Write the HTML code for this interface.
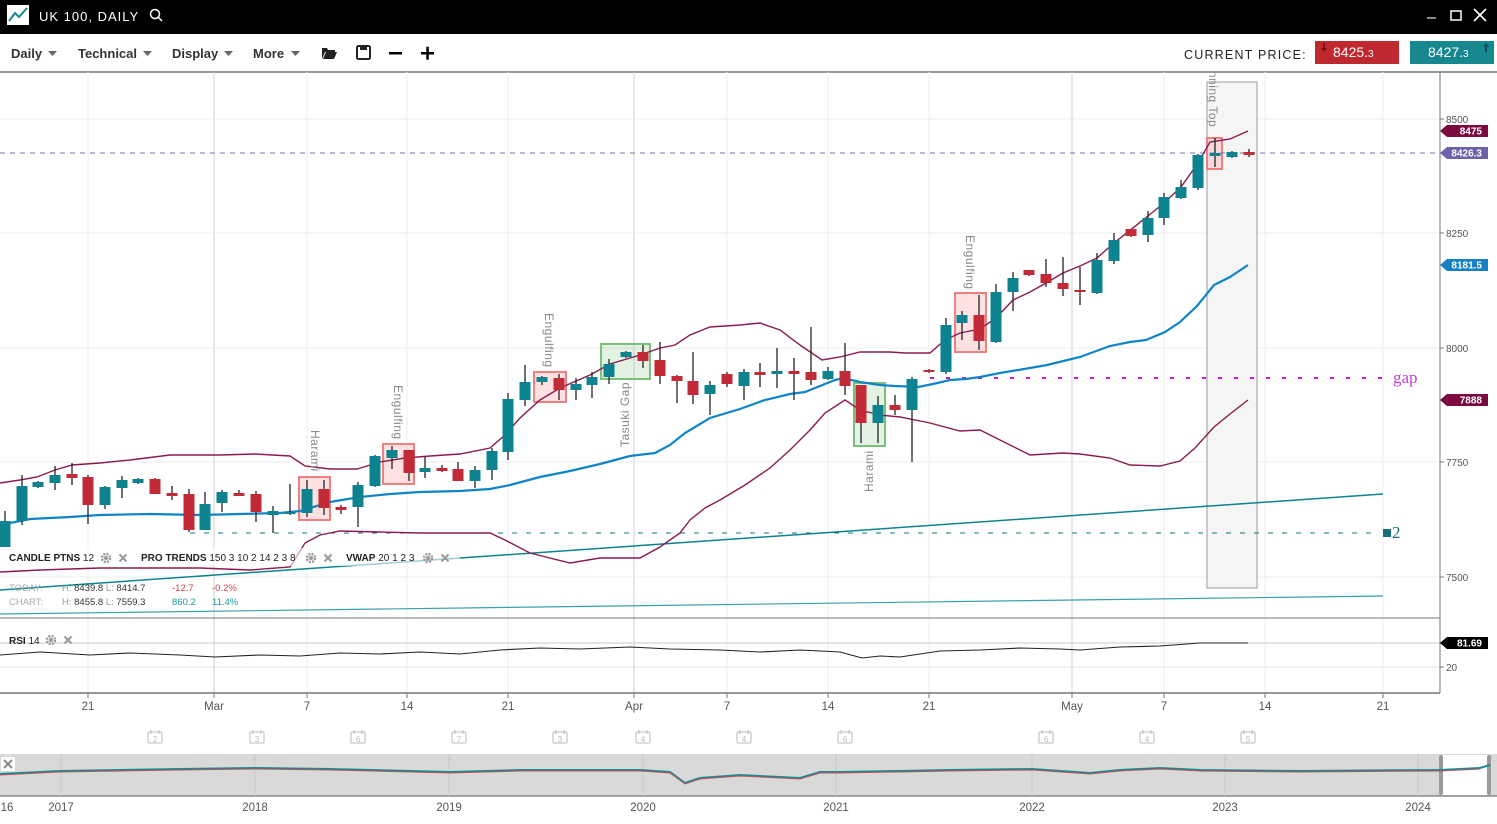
<!DOCTYPE html>
<html><head><meta charset="utf-8"><style>
body{margin:0;width:1497px;height:824px;overflow:hidden;background:#fff;font-family:"Liberation Sans",sans-serif;}
svg{position:absolute;left:0;top:0}
</style></head><body>
<svg id="s" width="1497" height="824" xmlns="http://www.w3.org/2000/svg" font-family="Liberation Sans, sans-serif">
<defs><clipPath id="cp"><rect x="0" y="73" width="1440" height="545"/></clipPath></defs>
<rect x="0" y="0" width="1497" height="34" fill="#000"/>
<rect x="7" y="5" width="22" height="20" fill="#fff"/>
<polyline points="9,21 15,13 19,17 27,8" fill="none" stroke="#17888f" stroke-width="2"/>
<text x="39" y="21" fill="#fff" font-size="13" letter-spacing="1">UK 100, DAILY</text>
<circle cx="155" cy="14" r="4.5" fill="none" stroke="#fff" stroke-width="1.5"/><line x1="158" y1="17" x2="162" y2="21" stroke="#fff" stroke-width="1.5"/>
<text x="1427" y="22" fill="#fff" font-size="16">–</text>
<rect x="1451" y="11" width="10" height="9" fill="none" stroke="#fff" stroke-width="1.5"/>
<path d="M1474 9 L1486 21 M1486 9 L1474 21" stroke="#fff" stroke-width="1.6"/>
<g font-size="13" font-weight="bold" fill="#333">
<text x="11" y="58">Daily</text><path d="M48 51 l9 0 l-4.5 5z" fill="#666"/>
<text x="78" y="58">Technical</text><path d="M143 51 l9 0 l-4.5 5z" fill="#666"/>
<text x="172" y="58">Display</text><path d="M224 51 l9 0 l-4.5 5z" fill="#666"/>
<text x="253" y="58">More</text><path d="M291 51 l9 0 l-4.5 5z" fill="#666"/>
</g>
<path d="M322 59 l0-11 l5 0 l1 2 l7 0 l0 2 l-10 0 l-3 7z M323 59 l3-7 l11 0 l-3 7z" fill="#222"/>
<rect x="357" y="46" width="13" height="13" rx="1.5" fill="none" stroke="#222" stroke-width="2"/><rect x="360" y="46" width="7" height="4" fill="#222"/>
<rect x="389" y="52" width="13" height="2.5" fill="#000"/>
<rect x="421" y="52" width="13" height="2.5" fill="#000"/><rect x="426.3" y="46.7" width="2.5" height="13" fill="#000"/>
<text x="1184" y="59" font-size="12.5" fill="#222" letter-spacing="1.2">CURRENT PRICE:</text>
<rect x="1315" y="41" width="84" height="23" fill="#c0282f"/>
<text x="1333" y="57" fill="#fff" font-size="14">8425.<tspan font-size="10">3</tspan></text>
<path d="M1323 43 v5 h-2 l3 4 l3-4 h-2 v-5z" fill="#7a1014"/>
<rect x="1410" y="41" width="84" height="23" fill="#17888f"/>
<text x="1428" y="57" fill="#fff" font-size="14">8427.<tspan font-size="10">3</tspan></text>
<path d="M1485 52 v-5 h-2 l3-4 l3 4 h-2 v5z" fill="#0b5157"/>
<line x1="0" y1="72" x2="1497" y2="72" stroke="#777" stroke-width="1.5"/>
<g id="grid" stroke="#ececec" stroke-width="1"></g>
<line x1="1440" y1="72" x2="1440" y2="693" stroke="#777"/>
<line x1="0" y1="618" x2="1440" y2="618" stroke="#777"/>
<line x1="0" y1="693" x2="1440" y2="693" stroke="#777" stroke-width="1.5"/>
<rect x="1207" y="82" width="50" height="506" fill="#f5f5f5" stroke="#999" stroke-width="1"/>
<g id="main"></g>
</svg>
<script>
const s=document.getElementById('main'),g=document.getElementById('grid');let h='';let gh='';
const vx=[88,214,307,407,508,634,727,828,929,1072,1164,1265,1383];
vx.forEach((x,i)=>{const d=(x==214||x==634||x==1072);gh+=`<line x1="${x}" y1="72" x2="${x}" y2="693" stroke="${d?'#d0d0d0':'#ececec'}"/>`;});
[119,233,348,462,577].forEach(y=>gh+=`<line x1="0" y1="${y}" x2="1440" y2="${y}"/>`);
gh+=`<line x1="0" y1="643" x2="1440" y2="643" stroke="#c8c8c8"/><line x1="0" y1="667" x2="1440" y2="667" stroke="#e0e0e0"/>`;
g.innerHTML=gh;
const T='#0d838f',R='#c22a37';
const boxes=[[299,477,31,43,'r'],[383,444,31,40,'r'],[534,372,32,30,'r'],[601,344,49,35,'g'],[854,383,31,63,'g'],[955,293,31,59,'r'],[1207,138,15,31,'r']];
boxes.forEach(b=>h+=`<rect x="${b[0]}" y="${b[1]}" width="${b[2]}" height="${b[3]}" fill="${b[4]=='r'?'rgba(255,120,120,0.22)':'rgba(120,190,120,0.2)'}" stroke="${b[4]=='r'?'#f08080':'#7cc07c'}" stroke-width="2"/>`);
function pl(p,c,w){h+=`<polyline points="${p}" fill="none" stroke="${c}" stroke-width="${w}"/>`;}
pl('0,590 1383,494','#0d838f',1.5);
pl('0,614 1383,596','#3aa0a8',1.2);
h+=`<line x1="190" y1="533" x2="1380" y2="533" stroke="#17707a" stroke-dasharray="5,9"/>`;
h+=`<rect x="1383" y="529" width="8" height="8" fill="#17707a"/><text x="1392" y="538" font-family="Liberation Serif,serif" font-size="17" fill="#17707a">2</text>`;
h+=`<line x1="930" y1="378" x2="1385" y2="378" stroke="#c020c8" stroke-width="2" stroke-dasharray="4,12"/>`;
h+=`<text x="1393" y="383" font-family="Liberation Serif,serif" font-size="17" fill="#c040d0">gap</text>`;
h+=`<line x1="0" y1="153" x2="1440" y2="153" stroke="#7a70aa" stroke-dasharray="5,5"/>`;
pl('0,483 20,480 37,477 55,470 72,465 100,463 130,460 170,455 220,455 255,454 290,456 305,466 330,469 357,469 380,462 405,458 430,456 460,454 490,448 505,435 520,418 540,400 560,388 590,375 610,364 640,355 660,348 675,345 690,335 710,327 740,325 760,323 780,330 800,345 822,360 840,357 860,352 890,352 905,353 930,353 945,340 960,333 980,329 996,318 1013,300 1030,292 1046,283 1063,273 1080,266 1097,258 1114,243 1148,216 1164,203 1181,187 1198,163 1210,142 1230,139 1248,131','#8b1a4f',1.4);
pl('0,572 40,570 100,568 200,568 250,570 290,567 305,543 320,535 340,531 380,532 420,533 460,533 490,533 505,540 530,553 570,563 600,558 640,558 660,547 680,533 690,520 705,508 720,500 745,485 770,468 790,450 810,430 825,413 845,400 860,410 880,415 900,417 930,423 960,431 980,430 1000,440 1030,455 1063,453 1080,454 1110,458 1130,465 1160,466 1180,461 1195,448 1214,427 1230,414 1248,400','#8b1a4f',1.4);
pl('0,525 30,519 70,517 100,515 150,514 200,515 240,514 280,513 300,511 330,502 360,497 390,494 420,492 460,491 490,489 510,485 540,477 570,471 600,464 630,456 655,453 670,445 685,433 710,418 740,409 765,400 790,394 805,392 820,386 835,380 843,378 860,382 880,385 895,386 918,387 933,384 950,380 966,379 980,377 1000,373 1030,368 1047,365 1080,357 1110,346 1130,342 1146,340 1165,332 1180,322 1197,306 1214,285 1230,277 1248,265','#0f84c8',2.2);
const C=[[5,521,547,511,547,T],[22,486,521,475,525,T],[38,482,487,481,488,T],[55,475,483,466,490,T],[72,474,478,463,485,R],[88,477,505,475,524,R],[105,487,505,486,509,T],[122,480,488,476,498,T],[138,479,483,478,484,T],[155,479,494,478,494,R],[172,493,496,486,500,R],[189,494,530,489,532,R],[205,504,530,492,530,T],[222,492,503,490,512,T],[239,493,496,490,496,R],[256,494,512,491,522,R],[273,511,515,506,533,T],[290,512,514,484,515,T],[307,489,513,480,517,T],[324,489,508,480,515,R],[341,507,510,505,514,R],[358,485,507,482,527,T],[375,456,486,455,487,T],[392,450,458,446,469,T],[409,450,473,450,481,R],[425,468,472,457,478,T],[442,468,471,465,472,R],[458,469,481,462,481,R],[475,470,481,466,488,T],[492,451,470,448,480,T],[508,399,452,393,460,T],[525,382,400,365,406,T],[542,377,382,376,385,T],[559,378,390,374,400,R],[576,384,390,378,400,T],[592,377,385,372,398,T],[609,364,377,359,384,T],[626,352,357,351,358,T],[643,352,361,345,368,R],[660,360,376,342,384,R],[677,376,381,375,403,R],[693,381,395,352,404,R],[710,385,394,381,415,T],[727,374,384,372,387,R],[744,372,386,369,400,T],[760,372,375,363,387,R],[777,371,374,348,388,T],[794,371,374,358,400,R],[811,372,380,327,385,R],[828,371,379,367,380,T],[845,371,386,343,395,R],[861,385,423,385,443,R],[878,405,423,396,443,T],[895,405,410,395,415,R],[912,379,410,377,462,T],[929,370,372,369,373,R],[946,325,372,318,374,T],[962,315,323,311,340,T],[979,315,341,295,350,R],[996,292,342,284,343,T],[1013,278,292,272,311,T],[1029,270,275,270,276,R],[1046,274,283,259,287,R],[1063,283,289,257,296,R],[1080,290,292,267,305,R],[1097,260,293,253,294,T],[1114,240,261,233,264,T],[1131,229,236,229,237,R],[1148,218,235,211,242,T],[1164,197,218,193,225,T],[1181,187,198,180,199,T],[1198,155,188,154,190,T],[1215,153,156,138,167,T],[1232,152,157,151,158,T],[1249,152,155,149,157,R]];
C.forEach(c=>{h+=`<line x1="${c[0]}" y1="${c[3]}" x2="${c[0]}" y2="${c[4]}" stroke="#222" stroke-width="1.3"/><rect x="${c[0]-5.5}" y="${c[1]}" width="11" height="${Math.max(2,c[2]-c[1])}" fill="${c[5]}"/>`;});
function vt(x,y,t,dir){h+=`<text transform="translate(${x},${y}) rotate(${dir})" font-size="12" fill="#888" letter-spacing="0.5">${t}</text>`;}
vt(311,430,'Harami',90);vt(394,385,'Engulfing',90);vt(545,313,'Engulfing',90);vt(966,235,'Engulfing',90);
h+=`<g clip-path="url(#cp)"><text transform="translate(1209,52) rotate(90)" font-size="12" fill="#888" letter-spacing="0.5">Spinning Top</text></g>`;
vt(629,447,'Tasuki Gap',-90);vt(873,492,'Harami',-90);
[[119,'8500'],[233,'8250'],[348,'8000'],[462,'7750'],[577,'7500'],[667,'20']].forEach(a=>{h+=`<line x1="1440" y1="${a[0]}" x2="1444" y2="${a[0]}" stroke="#777"/><text x="1446" y="${a[0]+4}" font-size="10" fill="#555">${a[1]}</text>`;});
function tag(y,t,c){h+=`<path d="M1440 ${y} l7 -6 h41 v12 h-41z" fill="${c}"/><text x="1482" y="${y+3.5}" font-size="10" font-weight="bold" fill="#fff" text-anchor="end">${t}</text>`;}
tag(131,'8475','#7a0a40');tag(153,'8426.3','#6b62aa');tag(265,'8181.5','#1a80c4');tag(400,'7888','#7a0a40');tag(643,'81.69','#000');
h+=`<rect x="0" y="548" width="460" height="18" fill="rgba(255,255,255,0.6)"/>`;
h+=`<text x="9" y="561" font-size="10" fill="#222"><tspan font-weight="bold">CANDLE PTNS</tspan> 12</text>`;
h+=`<text x="141" y="561" font-size="10" fill="#222"><tspan font-weight="bold">PRO TRENDS</tspan> 150 3 10 2 14 2 3 8</text>`;
h+=`<text x="346" y="561" font-size="10" fill="#222"><tspan font-weight="bold">VWAP</tspan> 20 1 2 3</text>`;
function gear(x,y){h+=`<circle cx="${x}" cy="${y}" r="4" fill="none" stroke="#999" stroke-width="2.5" stroke-dasharray="2,1.2"/><circle cx="${x}" cy="${y}" r="2" fill="#999"/>`;}
function xx(x,y){h+=`<path d="M${x-3.5} ${y-3.5} L${x+3.5} ${y+3.5} M${x+3.5} ${y-3.5} L${x-3.5} ${y+3.5}" stroke="#999" stroke-width="2"/>`;}
gear(106,558);xx(123,558);gear(311,558);xx(328,558);gear(428,558);xx(445,558);gear(51,640);xx(68,640);
h+=`<text x="9" y="591" font-size="9.5" fill="#aaa">TODAY:</text><text x="62" y="591" font-size="9.5" fill="#999">H: <tspan fill="#333">8439.8</tspan>  L: <tspan fill="#333">8414.7</tspan></text><text x="172" y="591" font-size="9.5" fill="#d04050">-12.7</text><text x="212" y="591" font-size="9.5" fill="#d04050">-0.2%</text>`;
h+=`<text x="9" y="605" font-size="9.5" fill="#aaa">CHART:</text><text x="62" y="605" font-size="9.5" fill="#999">H: <tspan fill="#333">8455.8</tspan>  L: <tspan fill="#333">7559.3</tspan></text><text x="172" y="605" font-size="9.5" fill="#1a9aa0">860.2</text><text x="212" y="605" font-size="9.5" fill="#1a9aa0">11.4%</text>`;
h+=`<text x="9" y="644" font-size="10" fill="#222"><tspan font-weight="bold">RSI</tspan> 14</text>`;
pl('0,655 40,652 90,655 130,653 180,655 215,657 260,655 300,656 340,653 380,654 420,652 460,654 500,650 540,648 580,649 630,647 670,649 720,650 760,652 800,650 840,652 862,658 880,656 900,657 940,651 980,650 1020,648 1060,649 1080,650 1120,647 1160,646 1200,643 1248,643','#222',1.1);
[[88,'21'],[214,'Mar'],[307,'7'],[407,'14'],[508,'21'],[634,'Apr'],[727,'7'],[828,'14'],[929,'21'],[1072,'May'],[1164,'7'],[1265,'14'],[1383,'21']].forEach(d=>{h+=`<line x1="${d[0]}" y1="693" x2="${d[0]}" y2="698" stroke="#777"/><text x="${d[0]}" y="710" font-size="11.5" fill="#555" text-anchor="middle">${d[1]}</text>`;});
[[155,2],[257,3],[358,6],[459,7],[560,3],[643,4],[744,4],[845,6],[1046,6],[1147,4],[1248,5]].forEach(c=>{h+=`<rect x="${c[0]-7}" y="732" width="14" height="11" fill="none" stroke="#bbb" rx="1"/><line x1="${c[0]-4}" y1="730" x2="${c[0]-4}" y2="734" stroke="#bbb"/><line x1="${c[0]+4}" y1="730" x2="${c[0]+4}" y2="734" stroke="#bbb"/><text x="${c[0]}" y="742" font-size="8" fill="#bbb" text-anchor="middle">${c[1]}</text>`;});
h+=`<rect x="0" y="754" width="1497" height="42" fill="#d9d9d9"/><line x1="0" y1="796" x2="1497" y2="796" stroke="#888" stroke-width="1.5"/>`;
[61,255,449,643,836,1032,1225,1418].forEach(x=>h+=`<line x1="${x}" y1="754" x2="${x}" y2="796" stroke="#c8c8c8"/>`);
h+=`<rect x="1441" y="755" width="48" height="40" fill="#fff"/><rect x="1439" y="755" width="4" height="40" rx="2" fill="#999"/><rect x="1487" y="755" width="4" height="40" rx="2" fill="#999"/>`;
pl('0,774 60,771 180,769 255,768 330,769 450,772 520,770 640,770 670,772 685,783 700,778 740,775 800,778 820,772 840,772 900,771 950,770 1032,769 1090,773 1120,770 1160,768 1200,770 1300,771 1440,770 1480,768 1490,765','#1a8a92',2);
pl('0,775 60,772 180,770 255,769 330,770 450,773 520,771 640,771 670,773 685,784 700,779 740,776 800,779 820,773 840,773 900,772 950,771 1032,770 1090,774 1120,771 1160,769 1200,771 1300,772 1440,771 1480,769','#c05060',1);
h+=`<rect x="1" y="757" width="14" height="14" fill="#fff"/><path d="M4 760 L12 768 M12 760 L4 768" stroke="#888" stroke-width="2"/>`;
[[7,'16'],[61,'2017'],[255,'2018'],[449,'2019'],[643,'2020'],[836,'2021'],[1032,'2022'],[1225,'2023'],[1418,'2024']].forEach(d=>h+=`<text x="${d[0]}" y="811" font-size="11.5" fill="#555" text-anchor="middle">${d[1]}</text>`);
s.innerHTML=h;
</script>
</body></html>
